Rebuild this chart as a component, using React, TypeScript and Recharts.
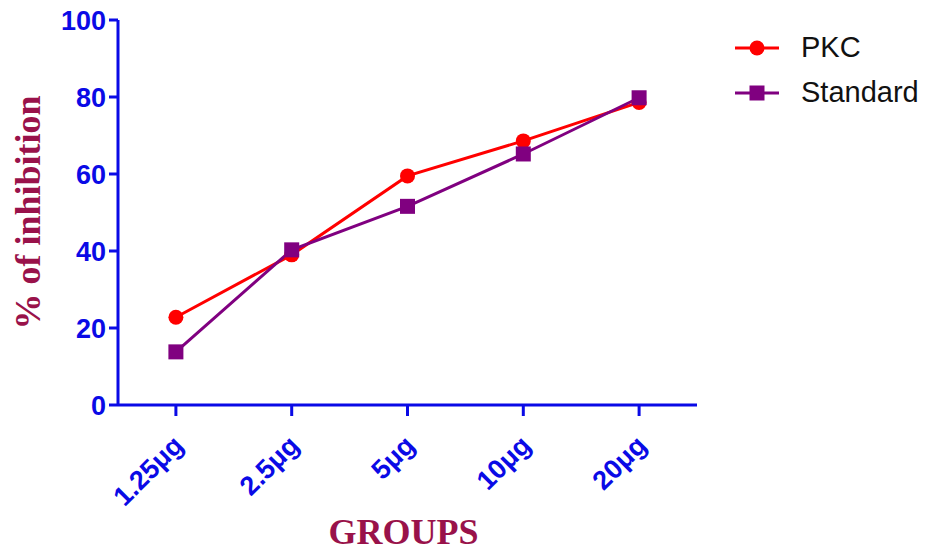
import React from 'react';
import { LineChart, Line, XAxis, YAxis } from 'recharts';

const groups = ['1.25μg', '2.5μg', '5μg', '10μg', '20μg'];
const pkcValues = [22.8, 39.0, 59.5, 68.6, 78.6];
const standardValues = [13.8, 40.3, 51.6, 65.2, 79.8];
const yTicks = [0, 20, 40, 60, 80, 100];

const data = groups.map((g, i) => ({ group: g, pkc: pkcValues[i], standard: standardValues[i] }));

const AXIS_BLUE = '#0a0ae6';
const TITLE_RED = '#99124a';

const SquareDot = (props: any) => {
  const { cx, cy, fill } = props;
  if (cx == null || cy == null) return null;
  return <rect x={cx - 7.5} y={cy - 7.5} width={15} height={15} fill={fill} />;
};

const XTick = (props: any) => {
  const { x, payload } = props;
  return (
    <text
      x={x + 9}
      y={447}
      transform={`rotate(-45, ${x + 9}, 447)`}
      textAnchor="end"
      fill={AXIS_BLUE}
      fontSize={27}
      fontWeight="bold"
      fontFamily="Arial, 'Liberation Sans', sans-serif"
    >
      {payload.value}
    </text>
  );
};

const legendItems = [
  { name: 'PKC', color: '#ff0000', shape: 'circle' },
  { name: 'Standard', color: '#800080', shape: 'square' },
];

const ChartLegend = () => (
  <div style={{ position: 'absolute', left: 735, top: 25 }}>
    {legendItems.map((it) => (
      <div key={it.name} style={{ display: 'flex', alignItems: 'center', height: 45 }}>
        <svg width={44} height={20} style={{ marginRight: 22 }}>
          <line x1={0} y1={10} x2={44} y2={10} stroke={it.color} strokeWidth={3} />
          {it.shape === 'circle' ? (
            <circle cx={22} cy={10} r={7.5} fill={it.color} />
          ) : (
            <rect x={14.5} y={2.5} width={15} height={15} fill={it.color} />
          )}
        </svg>
        <span style={{ fontFamily: "Arial, 'Liberation Sans', sans-serif", fontSize: 29, color: '#111' }}>
          {it.name}
        </span>
      </div>
    ))}
  </div>
);

export default function App() {
  return (
    <div style={{ position: 'absolute', left: 0, top: 0, width: 929, height: 553, background: '#fff' }}>
      <LineChart
        width={929}
        height={553}
        data={data}
        margin={{ top: 20, right: 232, bottom: 0, left: 18 }}
      >
        <XAxis
          dataKey="group"
          scale="band"
          height={148}
          axisLine={{ stroke: AXIS_BLUE, strokeWidth: 3 }}
          tickLine={{ stroke: AXIS_BLUE, strokeWidth: 3 }}
          tickSize={11}
          tick={<XTick />}
          interval={0}
          label={{
            content: (p: any) => {
              const vb = p.viewBox;
              return (
                <text
                  x={vb.x + vb.width / 2 - 4}
                  y={vb.y + 139}
                  textAnchor="middle"
                  fill={TITLE_RED}
                  fontSize={36}
                  fontWeight="bold"
                  fontFamily="'Liberation Serif', 'Times New Roman', serif"
                >
                  GROUPS
                </text>
              );
            },
          }}
        />
        <YAxis
          width={100}
          domain={[0, 100]}
          ticks={yTicks}
          axisLine={{ stroke: AXIS_BLUE, strokeWidth: 3 }}
          tickLine={{ stroke: AXIS_BLUE, strokeWidth: 3 }}
          tickSize={9}
          tickMargin={3}
          tick={{
            fill: AXIS_BLUE,
            fontSize: 27,
            fontWeight: 'bold',
            fontFamily: "Arial, 'Liberation Sans', sans-serif",
          }}
          label={{
            content: (p: any) => {
              const vb = p.viewBox;
              const cx = vb.x + 10;
              const cy = vb.y + vb.height / 2;
              return (
                <text
                  x={cx}
                  y={cy}
                  transform={`rotate(-90, ${cx}, ${cy})`}
                  textAnchor="middle"
                  dominantBaseline="central"
                  fill={TITLE_RED}
                  fontSize={36}
                  fontWeight="bold"
                  fontFamily="'Liberation Serif', 'Times New Roman', serif"
                >
                  % of inhibition
                </text>
              );
            },
          }}
        />
        <Line
          name="PKC"
          dataKey="pkc"
          stroke="#ff0000"
          strokeWidth={3}
          dot={{ r: 7.5, fill: '#ff0000', stroke: 'none' }}
          isAnimationActive={false}
        />
        <Line
          name="Standard"
          dataKey="standard"
          stroke="#800080"
          strokeWidth={3}
          dot={<SquareDot fill="#800080" />}
          isAnimationActive={false}
        />
      </LineChart>
      <ChartLegend />
    </div>
  );
}
